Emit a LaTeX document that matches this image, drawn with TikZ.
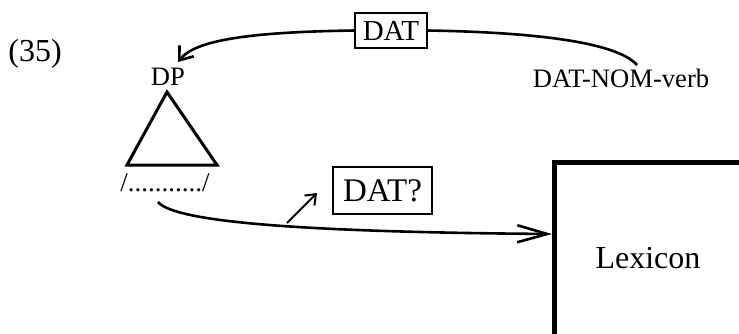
\documentclass[tikz,border=0pt]{standalone}
\usepackage{fontspec}
\setmainfont{Liberation Serif}
\usetikzlibrary{arrows.meta,calc}
\begin{document}
\begin{tikzpicture}[x=1pt,y=-1pt,
  txt/.style={inner sep=0pt,font=\fontsize{#1}{#1}\selectfont},
  tag/.style={draw,line width=1.4pt,inner sep=0pt,text depth=0pt},
  link/.style={line width=2.6pt},
  bigbarb/.style={-{Straight Barb[length=30pt,width=17pt]}},
  midbarb/.style={-{Straight Barb[length=12pt,width=18pt]}},
  smallbarb/.style={-{Straight Barb[length=9pt,width=14pt]}}]
  \clip (0,0) rectangle (739,333);

  % example number
  \node[txt=32] (num) at (35,54) {(35)};

  % DP with its triangle and phonological string
  \node[txt=26.6] (dp) at (168,77) {DP};
  \coordinate (apex) at (167,92);
  \draw[line width=3pt,line join=miter] (apex) -- (127,165) -- (217,165) -- cycle;
  \node[txt=27] (phon) at (165,183) {/.........../};
  \coordinate (tail) at (158,202);

  % verb and case labels
  \node[txt=26.6] (verb) at (621,78) {DAT-NOM-verb};
  \coordinate (vtop) at (637,65);
  \coordinate (dptip) at (178,62);
  \node[tag,txt=29,minimum width=72pt,minimum height=35pt] (dat) at (391,30.5) {DAT};
  \node[tag,txt=33,minimum width=99pt,minimum height=47pt] (datq) at (382.5,190.5) {DAT?};

  % lexicon box running off the page
  \draw[line width=5pt,line cap=rect] (554,340) -- (554,162) -- (750,162);
  \node[txt=32] (lex) at (648,258) {Lexicon};
  \coordinate (lexin) at (552,234);

  % case assignment from the verb to DP
  \draw[link] (vtop) .. controls (615,40) and (520,32) .. (dat.east);
  \draw[link,midbarb] (dat.west) .. controls (250,32) and (195,40) .. (dptip);

  % lookup of the DP string in the lexicon
  \draw[link,bigbarb] (tail) .. controls (175,222) and (300,232) .. (lexin);
  \coordinate (qa) at (287,223);
  \coordinate (qb) at (317,193);
  \draw[line width=2pt,smallbarb] (qa) -- (qb);
\end{tikzpicture}
\end{document}
